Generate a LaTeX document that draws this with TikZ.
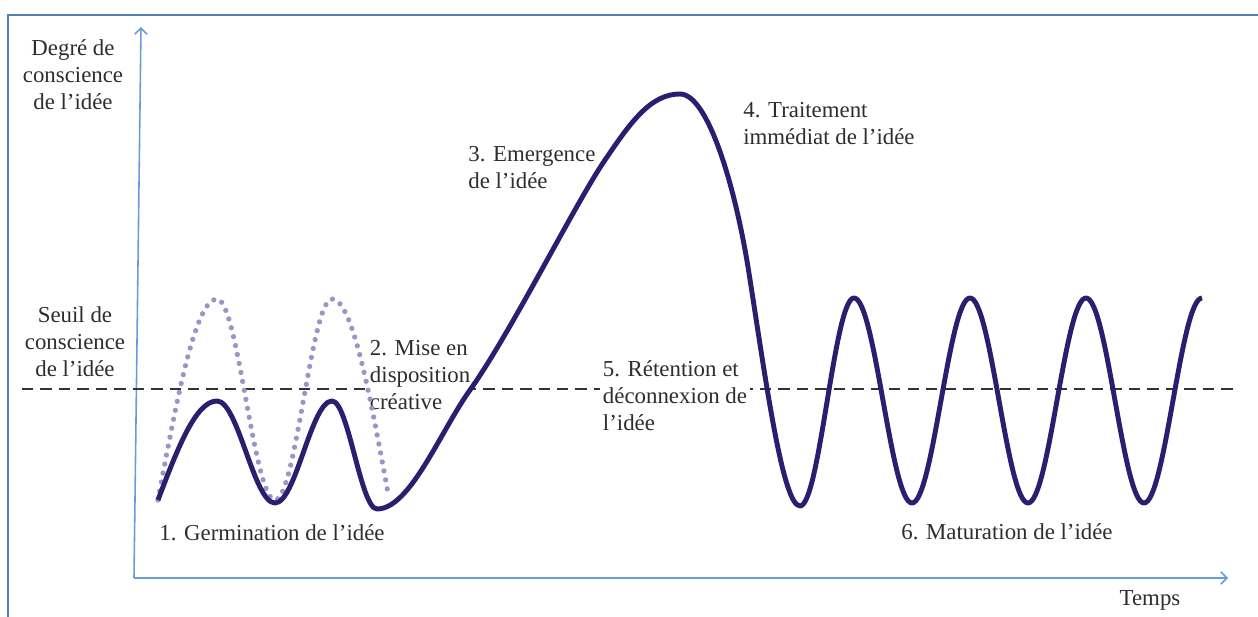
\documentclass[tikz,border=0pt]{standalone}
\usepackage{fontspec}
\setmainfont{Liberation Serif}
\usetikzlibrary{arrows.meta, positioning}

\definecolor{frameblue}{RGB}{79,129,189}
\definecolor{axisblue}{RGB}{105,155,215}
\definecolor{ideanavy}{RGB}{42,30,110}
\definecolor{ghostlilac}{RGB}{150,150,200}
\definecolor{labelgray}{RGB}{45,45,45}

\begin{document}
\begin{tikzpicture}[
		x=0.02cm, y=0.02cm,
		% Frame and axes
		frame line/.style={draw=frameblue, line width=1.5pt},
		axis line/.style={draw=axisblue, line width=0.9pt, -{Straight Barb[length=3.5pt, width=7pt]}},
		% Threshold of consciousness
		threshold/.style={draw=black!80, line width=1.2pt, dash pattern=on 6.5pt off 4pt},
		% Curves
		idea curve/.style={draw=ideanavy, line width=2.8pt, line join=round},
		ghost curve/.style={draw=ghostlilac, line width=3pt, line cap=round, dash pattern=on 0pt off 5.2pt},
		% Text
		axis label/.style={font=\fontsize{13}{15.3}\selectfont, text=labelgray, align=center, inner sep=0pt},
		phase label/.style={font=\fontsize{13}{15.3}\selectfont, text=labelgray, align=left, anchor=west, inner sep=0pt},
		masked/.style={fill=white, inner sep=1.5pt}
	]
	\useasboundingbox (0,0) rectangle (1258,617);

	% ==============================================================================
	% Frame and axes
	% ==============================================================================
	\draw[frame line] (8,0) -- (8,602) -- (1258,602);

	\coordinate (origin) at (134,39);
	\coordinate (y-top) at (141,590);
	\coordinate (x-end) at (1228,39);
	\draw[axis line] (origin) -- (y-top);
	\draw[axis line] (origin) -- (x-end);

	\node[axis label] (degre) at (73,542) {Degré de\\conscience\\de l’idée};
	\node[axis label] (temps) at (1150,17) {Temps};

	% Threshold line
	\coordinate (thr-l) at (22,228);
	\coordinate (thr-r) at (1235,228);
	\draw[threshold] (thr-l) -- (thr-r);
	\node[axis label] (seuil) at (75,275) {Seuil de\\conscience\\de l’idée};

	% ==============================================================================
	% Phase labels
	% ==============================================================================
	\node[axis label] (germ) at (272,84) {1. Germination de l’idée};
	\node[phase label, masked] (mise) at (367,242) {2. Mise en\\disposition\\créative};
	\node[phase label] (emer) at (468,449) {3. Emergence\\de l’idée};
	\node[phase label] (trait) at (743,493) {4. Traitement\\immédiat de l’idée};
	\node[phase label, masked] (reten) at (600,221) {5. Rétention et\\déconnexion de\\l’idée};
	\node[axis label] (matu) at (1007,85) {6. Maturation de l’idée};

	% ==============================================================================
	% Curves
	% ==============================================================================
	% dotted: what germination would need to cross the threshold
	\draw[ghost curve] (158,117) sin (217,318) cos (246,217) sin (275,117)
		cos (303.5,217) sin (332,318) cos (388,124);

	% solid: degree of consciousness over time
	\draw[idea curve] (158,117) sin (217,216) cos (246,165) sin (275,114)
		cos (303.5,165) sin (332,216) cos (354.5,162) sin (377,108)
		.. controls (410,108) and (440,185) .. (470,227)
		.. controls (510,283) and (573,409) .. (603,454)
		.. controls (630,494) and (650,523) .. (680,523)
		.. controls (708,523) and (735,430) .. (748,350)
		.. controls (764,250) and (782,111) .. (800,111)
		cos (827,215) sin (854,319) cos (883,216.5) sin (912,114)
		cos (941,216.5) sin (970,319) cos (999,216.5) sin (1028,114)
		cos (1057,216.5) sin (1086,319) cos (1115,216.5) sin (1144,114)
		cos (1173,216.5) sin (1202,319);
\end{tikzpicture}
\end{document}
